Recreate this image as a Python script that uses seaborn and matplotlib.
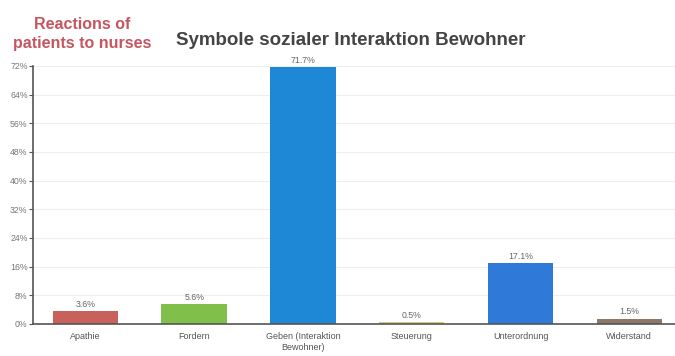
import matplotlib
matplotlib.use("Agg")
import matplotlib.pyplot as plt
import seaborn as sns
import pandas as pd

categories = ["Apathie", "Fordern", "Geben (Interaktion\nBewohner)", "Steuerung", "Unterordnung", "Widerstand"]
values = [3.6, 5.6, 71.7, 0.5, 17.1, 1.5]
labels = ["3.6%", "5.6%", "71.7%", "0.5%", "17.1%", "1.5%"]
colors = ["#c8605c", "#7fbf4a", "#1f88d6", "#d9c77e", "#2f7ad8", "#8a786a"]
yticks = [0, 8, 16, 24, 32, 40, 48, 56, 64, 72]
ytick_labels = ["0%", "8%", "16%", "24%", "32%", "40%", "48%", "56%", "64%", "72%"]

sns.set_theme(style="white")
plt.rcParams['font.family'] = ['Liberation Sans', 'DejaVu Sans']

df = pd.DataFrame({"cat": categories, "val": values})
fig = plt.figure(figsize=(6.75, 3.56), dpi=100)
ax = fig.add_axes([0.049, 0.09, 0.951, 0.725])
sns.barplot(data=df, x="cat", y="val", hue="cat", palette=colors, legend=False,
            width=0.6, ax=ax, saturation=1, linewidth=0, zorder=3)

ax.set_ylim(0, 72)
ax.set_xlim(-0.48, 5.42)
ax.set_yticks(yticks)
ax.set_yticklabels(ytick_labels, fontsize=6.3, color="#777777")
ax.tick_params(axis="y", length=3, width=0.8, color="#555555", pad=1, left=True)
ax.tick_params(axis="x", length=0, labelsize=6.5, labelcolor="#555555", pad=6)
ax.set_xlabel("")
ax.set_ylabel("")
for y in yticks[1:]:
    ax.axhline(y, color="#eeeeee", lw=0.8, zorder=0)
for s in ["top", "right"]:
    ax.spines[s].set_visible(False)
ax.spines["left"].set_color("#555555")
ax.spines["left"].set_linewidth(1.2)
ax.spines["bottom"].set_color("#555555")
ax.spines["bottom"].set_linewidth(1.2)
ax.spines["bottom"].set_zorder(4)
ax.spines["left"].set_zorder(4)

for i, (v, lab) in enumerate(zip(values, labels)):
    ax.text(i, v + 0.6, lab, ha="center", va="bottom", fontsize=6.3, color="#666666")

fig.text(0.519, 0.885, "Symbole sozialer Interaktion Bewohner", ha="center", va="center",
         fontsize=13.5, color="#444444", fontweight="bold")
fig.text(0.122, 0.905, "Reactions of\npatients to nurses", ha="center", va="center",
         fontsize=11.5, color="#c5555f", fontweight="bold", linespacing=1.35)

fig.savefig("out.png", dpi=100)
